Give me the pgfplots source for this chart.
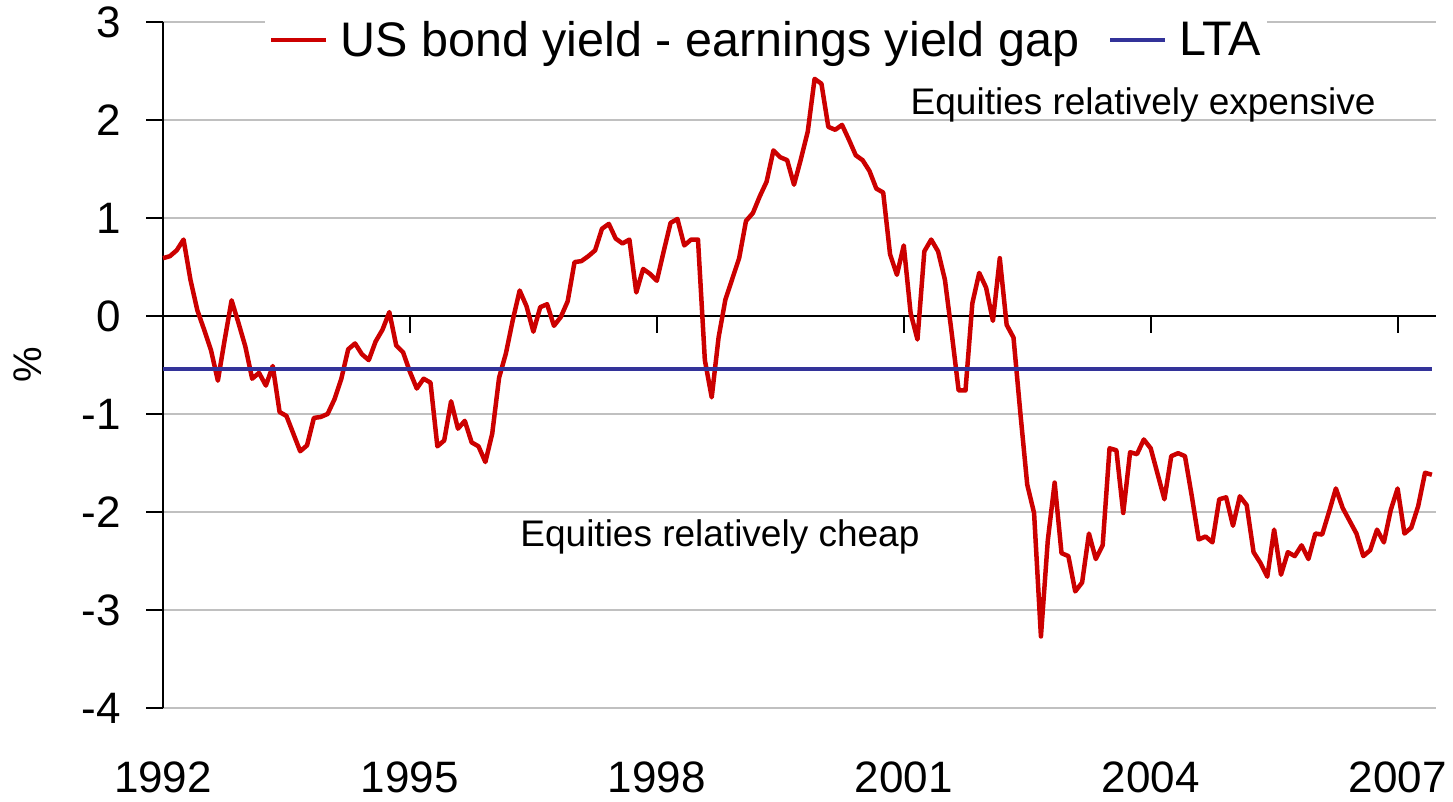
\documentclass[border=0pt]{standalone}
\usepackage{pgfplots}
\pgfplotsset{compat=1.18}
\usepackage{fontspec}
\setmainfont{Liberation Sans}
\definecolor{gapred}{HTML}{CC0000}
\definecolor{ltablue}{HTML}{333399}
\definecolor{gridgray}{HTML}{C0C0C0}
\begin{document}
\begin{tikzpicture}[x=1pt,y=1pt]
\path[use as bounding box] (0,0) rectangle (1453,801);
\begin{axis}[
  at={(163pt,93pt)}, anchor=south west,
  scale only axis, width=1273pt, height=686pt,
  xmin=0, xmax=185.6, ymin=-4, ymax=3,
  axis y line*=left, axis x line*=bottom,
  x axis line style={draw=none},
  y axis line style={line width=2pt, black, -},
  xtick={0,36,72,108,144,180},
  xticklabels={1992,1995,1998,2001,2004,2007},
  xtick style={draw=none},
  ytick={-4,-3,-2,-1,0,1,2,3},
  yticklabels={-4,-3,-2,-1,0,1,2,3},
  ytick style={line width=2pt, black},
  tick align=outside,
  major tick length=17pt,
  ymajorgrids, grid style={gridgray, line width=2pt},
  tick label style={font=\fontsize{44}{48}\selectfont},
  xticklabel style={anchor=north, inner sep=0pt, yshift=-37pt},
  yticklabel style={anchor=east, inner sep=0pt, xshift=-25pt},
  ylabel={\%},
  ylabel style={at={(axis description cs:-0.106,0.5)}, anchor=center, font=\fontsize{40}{44}\selectfont},
  legend style={at={(axis description cs:0.4737,0.974)}, anchor=center, draw=none, fill=white,
    font=\fontsize{48.5}{52}\selectfont, legend columns=2, inner sep=4pt,
    /tikz/every odd column/.append style={column sep=10pt},
    /tikz/every even column/.append style={column sep=27pt}},
  legend image code/.code={\draw[#1] (0pt,0pt) -- (55pt,0pt);},
  clip=false,
]
\draw[black, line width=2pt] (axis cs:0,0) -- (axis cs:185.6,0);
\draw[black, line width=2pt] (axis cs:0,0) -- ++(0pt,-17pt);
\draw[black, line width=2pt] (axis cs:36,0) -- ++(0pt,-17pt);
\draw[black, line width=2pt] (axis cs:72,0) -- ++(0pt,-17pt);
\draw[black, line width=2pt] (axis cs:108,0) -- ++(0pt,-17pt);
\draw[black, line width=2pt] (axis cs:144,0) -- ++(0pt,-17pt);
\draw[black, line width=2pt] (axis cs:180,0) -- ++(0pt,-17pt);
\addplot[gapred, line width=4.5pt, line join=round] coordinates {
(0,0.59)(1,0.61)(2,0.67)(3,0.78)(4,0.37)(5,0.06)(6,-0.14)(7,-0.35)(8,-0.66)(9,-0.24)
(10,0.16)(11,-0.07)(12,-0.31)(13,-0.64)(14,-0.58)(15,-0.71)(16,-0.51)(17,-0.98)(18,-1.02)(19,-1.20)
(20,-1.38)(21,-1.32)(22,-1.04)(23,-1.03)(24,-1.00)(25,-0.85)(26,-0.64)(27,-0.34)(28,-0.28)(29,-0.39)
(30,-0.45)(31,-0.26)(32,-0.14)(33,0.04)(34,-0.30)(35,-0.37)(36,-0.57)(37,-0.74)(38,-0.64)(39,-0.68)
(40,-1.33)(41,-1.27)(42,-0.87)(43,-1.15)(44,-1.07)(45,-1.29)(46,-1.33)(47,-1.49)(48,-1.20)(49,-0.63)
(50,-0.38)(51,-0.04)(52,0.26)(53,0.10)(54,-0.16)(55,0.09)(56,0.12)(57,-0.10)(58,-0.01)(59,0.15)
(60,0.55)(61,0.56)(62,0.61)(63,0.67)(64,0.89)(65,0.94)(66,0.79)(67,0.74)(68,0.78)(69,0.24)
(70,0.48)(71,0.43)(72,0.36)(73,0.66)(74,0.95)(75,0.99)(76,0.72)(77,0.78)(78,0.78)(79,-0.45)
(80,-0.83)(81,-0.22)(82,0.17)(83,0.38)(84,0.59)(85,0.97)(86,1.05)(87,1.22)(88,1.37)(89,1.69)
(90,1.62)(91,1.59)(92,1.34)(93,1.60)(94,1.88)(95,2.42)(96,2.37)(97,1.93)(98,1.90)(99,1.95)
(100,1.80)(101,1.64)(102,1.59)(103,1.48)(104,1.30)(105,1.26)(106,0.63)(107,0.42)(108,0.72)(109,0.03)
(110,-0.24)(111,0.66)(112,0.78)(113,0.66)(114,0.37)(115,-0.18)(116,-0.76)(117,-0.76)(118,0.13)(119,0.44)
(120,0.29)(121,-0.05)(122,0.59)(123,-0.09)(124,-0.22)(125,-0.99)(126,-1.72)(127,-2.01)(128,-3.27)(129,-2.29)
(130,-1.70)(131,-2.42)(132,-2.45)(133,-2.81)(134,-2.72)(135,-2.22)(136,-2.48)(137,-2.34)(138,-1.35)(139,-1.37)
(140,-2.01)(141,-1.39)(142,-1.41)(143,-1.26)(144,-1.35)(145,-1.61)(146,-1.87)(147,-1.43)(148,-1.40)(149,-1.43)
(150,-1.84)(151,-2.28)(152,-2.25)(153,-2.31)(154,-1.87)(155,-1.85)(156,-2.14)(157,-1.84)(158,-1.93)(159,-2.41)
(160,-2.52)(161,-2.66)(162,-2.18)(163,-2.64)(164,-2.41)(165,-2.45)(166,-2.34)(167,-2.48)(168,-2.22)(169,-2.23)
(170,-2.00)(171,-1.76)(172,-1.96)(173,-2.09)(174,-2.22)(175,-2.45)(176,-2.39)(177,-2.18)(178,-2.31)(179,-1.98)
(180,-1.76)(181,-2.22)(182,-2.16)(183,-1.94)(184,-1.60)(185,-1.62)
};
\addlegendentry{US bond yield - earnings yield gap}
\addplot[ltablue, line width=4pt] coordinates {(0,-0.54) (185,-0.54)};
\addlegendentry{LTA}
\node[font=\fontsize{37}{40}\selectfont] at (axis cs:142.9,2.15) {Equities relatively expensive};
\node[font=\fontsize{37}{40}\selectfont] at (axis cs:81.2,-2.255) {Equities relatively cheap};
\end{axis}
\end{tikzpicture}
\end{document}
